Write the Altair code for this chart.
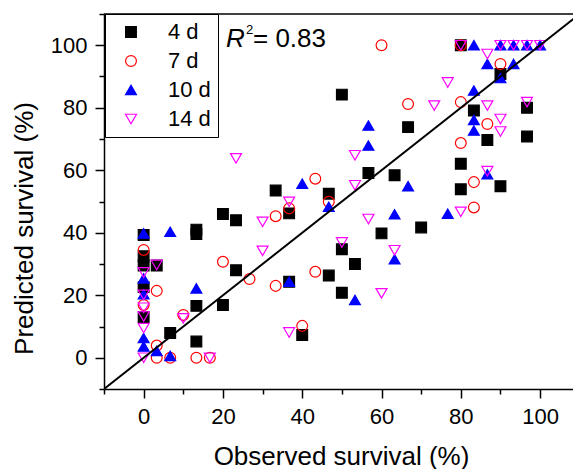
import altair as alt
import pandas as pd

# ---------------- data ----------------
series = ["4 d", "7 d", "10 d", "14 d"]
shapes = ["square", "circle", "triangle-up", "triangle-down"]
fills = ["#000000", "transparent", "#0000ff", "transparent"]
strokes = ["#000000", "#ff0000", "#0000ff", "#ff00ff"]
sizes = [115, 120, 260, 250]

obs_4d = [0, 0, 0, 0, 0, 3.3, 6.7, 13.3, 13.3, 13.3, 13.3, 20, 20, 23.3, 23.3, 33.3,
          36.7, 36.7, 40, 46.7, 46.7, 50, 50, 50, 53.3, 56.7, 60, 63.3, 66.7, 70,
          80, 80, 80, 83.3, 86.7, 90, 90, 96.7, 96.7]
pred_4d = [39.3, 32.5, 29.5, 22.6, 13, 29.5, 7.9, 41, 39.6, 16.6, 5.2, 46, 16.9, 44, 28, 53.5,
           46.2, 24.3, 7.3, 52.5, 26.3, 84.2, 34.7, 20.8, 30, 59.1, 39.8, 58.4, 73.8, 41.7,
           62.1, 53.9, 100, 79.1, 69.7, 90.8, 54.9, 80, 70.8]

obs_7d = [0, 0, 3.3, 3.3, 3.3, 6.7, 10, 13.3, 16.7, 20, 26.7, 33.3, 33.3, 36.7, 40,
          43.3, 43.3, 46.7, 60, 66.7, 80, 80, 80, 83.3, 83.3, 86.7, 90]
pred_7d = [34.5, 16.9, 21.4, 3.9, 0, 0, 13.7, 0, 0, 30.7, 25.2, 45.3, 23, 47.8, 10.2,
           57.3, 27.5, 49.9, 100, 81.2, 100, 81.8, 68.7, 56.2, 48.1, 74.8, 94]

obs_10d = [0, 0, 0, 0, 0, 3.3, 6.7, 6.7, 13.3, 36.7, 40, 46.7, 53.3, 56.7, 56.7, 63.3,
           63.3, 66.7, 76.7, 83.3, 83.3, 83.3, 83.3, 86.7, 86.7, 90, 90, 93.3, 93.3, 96.7, 100]
pred_10d = [39.8, 25.4, 20.3, 6.3, 3.6, 2.2, 0.6, 40.3, 22.2, 24.3, 55.7, 48.3, 18.5, 74.3, 67.9, 45.9,
            31.5, 54.9, 46.1, 100, 85.5, 76.1, 72.7, 94, 58.7, 100, 89.5, 100, 94, 100, 100]

obs_14d = [0, 0, 0, 0, 0, 0, 3.3, 10, 16.7, 23.3, 30, 30, 36.7, 36.7, 50, 53.3, 53.3,
           56.7, 60, 63.3, 73.3, 76.7, 80, 80, 86.7, 86.7, 86.7, 90, 90, 90, 93.3, 96.7, 96.7, 100]
pred_14d = [27.3, 20.1, 16, 13.2, 9.5, 0, 29.7, 12.6, 0, 63.8, 43.5, 34.2, 49.9, 8.1, 36.9, 64.8, 55.2,
            44.4, 20.6, 34.4, 80.7, 88.1, 100, 46.7, 97.2, 80.7, 59.7, 100, 76.4, 72.4, 100, 100, 81.8, 100]

diag_ends = [-10, 110]
r2_parts = ["R", "2", "= 0.83"]

x_title = "Observed survival (%)"
y_title = "Predicted survival (%)"

# ---------------- build table ----------------
rows = []
for name, xs, ys in [("4 d", obs_4d, pred_4d), ("7 d", obs_7d, pred_7d),
                     ("10 d", obs_10d, pred_10d), ("14 d", obs_14d, pred_14d)]:
    for a, b in zip(xs, ys):
        rows.append({"series": name, "observed": a, "predicted": b})
df = pd.DataFrame(rows)
diag = pd.DataFrame({"observed": diag_ends, "predicted": diag_ends})

FONT = "Liberation Sans"

xscale = alt.Scale(domain=[-10, 108.3], nice=False, zero=False)
yscale = alt.Scale(domain=[-10, 110], nice=False, zero=False)

major_test = "datum.value >= 0 && datum.value % 20 === 0"
tick_cond = {"condition": {"test": major_test, "value": 9}, "value": 5}
label_expr = f"{major_test} ? datum.label : ''"

x_axis = alt.Axis(values=list(range(-10, 101, 10)), labelExpr=label_expr, tickSize=tick_cond,
                  title=x_title, titleX=237, titleY=75, titleAlign="center",
                  titleBaseline="alphabetic", labelPadding=8)
y_axis = alt.Axis(values=list(range(-10, 111, 10)), labelExpr=label_expr, tickSize=tick_cond,
                  title=y_title, titleX=-80, titleY=214, titleAlign="center", titleAngle=270,
                  titleBaseline="middle", labelPadding=8)

legend = alt.Legend(title=None, orient="none", legendX=1, legendY=0, padding=7,
                    symbolOffset=8, labelOffset=26, rowPadding=7.0,
                    labelFontSize=22, labelFont=FONT, labelColor="black",
                    strokeColor="black", fillColor="white", symbolStrokeWidth=1.2)

points = alt.Chart(df).mark_point(opacity=1, strokeWidth=1.2).encode(
    x=alt.X("observed:Q", scale=xscale, axis=x_axis),
    y=alt.Y("predicted:Q", scale=yscale, axis=y_axis),
    shape=alt.Shape("series:N", scale=alt.Scale(domain=series, range=shapes), legend=legend),
    fill=alt.Fill("series:N", scale=alt.Scale(domain=series, range=fills), legend=legend),
    stroke=alt.Stroke("series:N", scale=alt.Scale(domain=series, range=strokes), legend=legend),
    size=alt.Size("series:N", scale=alt.Scale(domain=series, range=sizes), legend=legend),
)

line = alt.Chart(diag).mark_line(color="black", strokeWidth=2, clip=True).encode(
    x=alt.X("observed:Q", scale=xscale, axis=x_axis),
    y=alt.Y("predicted:Q", scale=yscale, axis=y_axis),
)

# top frame line of the plot area
frame_top = alt.Chart(pd.DataFrame({"t": [0]})).mark_rule(color="black", strokeWidth=1.5).encode(
    x=alt.value(0), x2=alt.value(469), y=alt.value(0)
)

t_r = alt.Chart(pd.DataFrame({"t": [r2_parts[0]]})).mark_text(
    font=FONT, fontSize=26, fontStyle="italic", align="left", baseline="alphabetic", color="black"
).encode(x=alt.value(122), y=alt.value(33), text="t:N")
t_sup = alt.Chart(pd.DataFrame({"t": [r2_parts[1]]})).mark_text(
    font=FONT, fontSize=13, align="left", baseline="alphabetic", color="black"
).encode(x=alt.value(142), y=alt.value(19.5), text="t:N")
t_val = alt.Chart(pd.DataFrame({"t": [r2_parts[2]]})).mark_text(
    font=FONT, fontSize=26, align="left", baseline="alphabetic", color="black"
).encode(x=alt.value(149), y=alt.value(33), text="t:N")

chart = alt.layer(points, line, frame_top, t_r, t_sup, t_val).properties(
    width=469, height=375,
    autosize=alt.AutoSizeParams(type="none"),
    padding={"left": 104, "top": 14, "right": 0, "bottom": 80},
    background="white",
).configure_view(stroke="transparent").configure_axis(
    grid=False, domainColor="black", tickColor="black", labelColor="black",
    titleColor="black", labelFont=FONT, titleFont=FONT, labelFontSize=22,
    titleFontSize=26, titleFontWeight="normal", domainWidth=1.5, tickWidth=1.5,
)

chart.save("out.html", embed_options={"renderer": "svg", "actions": False})
